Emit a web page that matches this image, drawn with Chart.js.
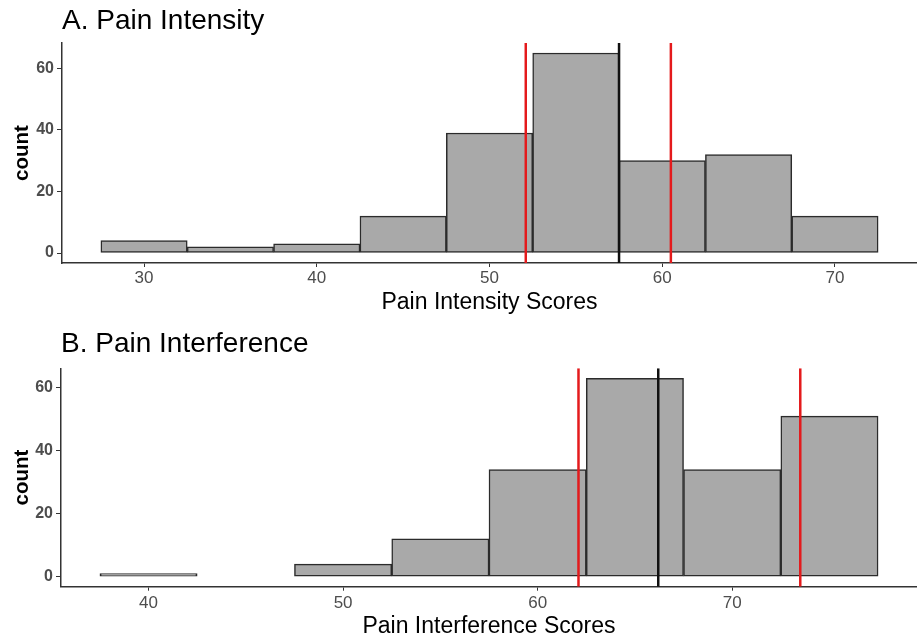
<!DOCTYPE html>
<html>
<head>
<meta charset="utf-8">
<script src="https://cdn.jsdelivr.net/npm/chart.js@4.4.1/dist/chart.umd.min.js"></script>
<style>
  body { margin: 0; background: #fff; }
  .panel { position: absolute; left: 0; }
</style>
</head>
<body>
<div class="panel" style="top:0"><canvas id="intensityChart" width="917" height="320"></canvas></div>
<div class="panel" style="top:320px"><canvas id="interferenceChart" width="917" height="323"></canvas></div>
<script>
// Panel A: pain intensity histogram (bin centres, width 5)
var intensityBins = [30, 35, 40, 45, 50, 55, 60, 65, 70];
var intensityCounts = [4, 2, 3, 12, 39, 65, 30, 32, 12];
var intensityRedLines = [52.1, 60.5];
var intensityBlackLines = [57.5];
var intensityXTicks = [30, 40, 50, 60, 70];

// Panel B: pain interference histogram
var interferenceBins = [40, 45, 50, 55, 60, 65, 70, 75];
var interferenceCounts = [1, 0, 4, 12, 34, 63, 34, 51];
var interferenceRedLines = [62.1, 73.5];
var interferenceBlackLines = [66.2];
var interferenceXTicks = [40, 50, 60, 70];

var yTicks = [0, 20, 40, 60];

var FONT = '"Liberation Sans", Arial, sans-serif';
var AXIS = '#333333';
var TICKTEXT = '#4d4d4d';

function vline(x, yMin, yMax, color) {
    return {
        type: 'line',
        data: [{x: x, y: yMin}, {x: x, y: yMax}],
        borderColor: color,
        borderWidth: 2.5,
        pointRadius: 0,
        fill: false,
        order: 0
    };
}

function makeHist(id, o) {
    var maxCount = Math.max.apply(null, o.counts);
    var yMin = -maxCount * 0.05, yMax = maxCount * 1.05;
    var xMin = o.bins[0] - 2.5, xMax = o.bins[o.bins.length - 1] + 2.5;
    var pad = (xMax - xMin) * 0.05;

    var datasets = [{
        type: 'bar',
        data: o.bins.map(function (b, i) { return {x: b, y: o.counts[i]}; }),
        backgroundColor: '#a9a9a9',
        borderColor: '#2b2b2b',
        borderWidth: 1.5,
        borderSkipped: false,
        barPercentage: 1,
        categoryPercentage: 1,
        order: 1
    }];
    o.red.forEach(function (v) { datasets.push(vline(v, yMin, yMax, '#e41a1c')); });
    o.black.forEach(function (v) { datasets.push(vline(v, yMin, yMax, '#111111')); });

    return new Chart(document.getElementById(id).getContext('2d'), {
        type: 'bar',
        data: { datasets: datasets },
        options: {
            responsive: false,
            animation: false,
            layout: { padding: 0 },
            plugins: {
                legend: { display: false },
                tooltip: { enabled: false },
                title: {
                    display: true,
                    text: o.title,
                    align: 'start',
                    fullSize: false,
                    color: '#000',
                    font: { family: FONT, size: 28, weight: 'normal' },
                    padding: o.titlePad
                }
            },
            scales: {
                x: {
                    type: 'linear',
                    offset: false,
                    min: xMin - pad,
                    max: xMax + pad,
                    grid: { display: true, offset: false, drawOnChartArea: false, drawTicks: true, tickLength: 4, color: AXIS, lineWidth: 1 },
                    border: { display: true, color: AXIS, width: 1.5 },
                    ticks: { color: TICKTEXT, padding: o.xTickPad, font: { family: FONT, size: 17 } },
                    title: {
                        display: true,
                        text: o.xTitle,
                        color: '#000',
                        font: { family: FONT, size: 23 },
                        padding: { top: 0, bottom: o.xTitlePad }
                    },
                    afterBuildTicks: function (s) { s.ticks = o.xTicks.map(function (v) { return {value: v}; }); },
                    afterFit: function (s) { s.height = o.xHeight; s.paddingLeft = 0; s.paddingRight = 0; }
                },
                y: {
                    type: 'linear',
                    min: yMin,
                    max: yMax,
                    grid: { display: true, offset: false, drawOnChartArea: false, drawTicks: true, tickLength: 5, color: AXIS, lineWidth: 1 },
                    border: { display: true, color: AXIS, width: 1.5 },
                    ticks: { color: TICKTEXT, padding: 3, font: { family: FONT, size: 16, weight: 'bold' } },
                    title: {
                        display: true,
                        text: 'count',
                        color: '#000',
                        font: { family: FONT, size: 20.5, weight: 'bold' },
                        padding: { top: 9.9, bottom: 0 }
                    },
                    afterBuildTicks: function (s) { s.ticks = yTicks.map(function (v) { return {value: v}; }); },
                    afterFit: function (s) { s.width = o.yWidth; s.paddingTop = 0; s.paddingBottom = 0; }
                }
            }
        }
    });
}

makeHist('intensityChart', {
    title: 'A. Pain Intensity',
    xTitle: 'Pain Intensity Scores',
    bins: intensityBins,
    counts: intensityCounts,
    red: intensityRedLines,
    black: intensityBlackLines,
    xTicks: intensityXTicks,
    titlePad: { top: 4.5, bottom: 4.9 },
    xTickPad: 1,
    xTitlePad: 4,
    xHeight: 57,
    yWidth: 62
});

makeHist('interferenceChart', {
    title: 'B. Pain Interference',
    xTitle: 'Pain Interference Scores',
    bins: interferenceBins,
    counts: interferenceCounts,
    red: interferenceRedLines,
    black: interferenceBlackLines,
    xTicks: interferenceXTicks,
    titlePad: { top: 7.7, bottom: 7 },
    xTickPad: 2,
    xTitlePad: 3,
    xHeight: 56.3,
    yWidth: 61
});
</script>
</body>
</html>
